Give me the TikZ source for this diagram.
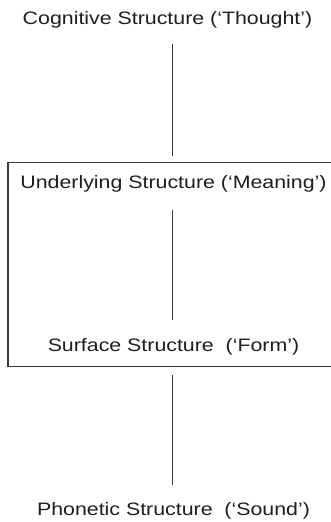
\documentclass[tikz,border=0pt]{standalone}
\usepackage{fontspec}
\setmainfont{Liberation Sans}
\definecolor{ink}{HTML}{1E1E1E}
\definecolor{rule}{HTML}{3A3A3A}
\newcommand{\widetext}[1]{\scalebox{1.186}[1]{#1}}
\begin{document}
\begin{tikzpicture}[x=1pt,y=-1pt,
  lbl/.style={anchor=base,inner sep=0pt,text=ink,font=\fontsize{18}{21}\selectfont},
  conn/.style={draw=rule,line width=1.1pt},
  frame/.style={draw=rule,line width=1.1pt}]
\useasboundingbox (0,0) rectangle (331,522);
\node[lbl] (cog) at (167.5,24) {\widetext{Cognitive Structure (‘Thought’)}};
\node[lbl] (und) at (173.5,188) {\widetext{Underlying Structure (‘Meaning’)}};
\node[lbl] (sur) at (173.5,351.5) {\widetext{Surface Structure\ \ (‘Form’)}};
\node[lbl] (pho) at (173.5,515) {\widetext{Phonetic Structure\ \ (‘Sound’)}};
\coordinate (a1) at (172.7,44);
\coordinate (a2) at (172.7,156);
\coordinate (b1) at (172.7,210);
\coordinate (b2) at (172.7,320);
\coordinate (c1) at (172.7,375);
\coordinate (c2) at (172.7,485);
\draw[conn] (a1) -- (a2);
\draw[conn] (b1) -- (b2);
\draw[conn] (c1) -- (c2);
\draw[frame] (335,162.7) -- (8,162.7) -- (8,366.7) -- (335,366.7);
\end{tikzpicture}
\end{document}
